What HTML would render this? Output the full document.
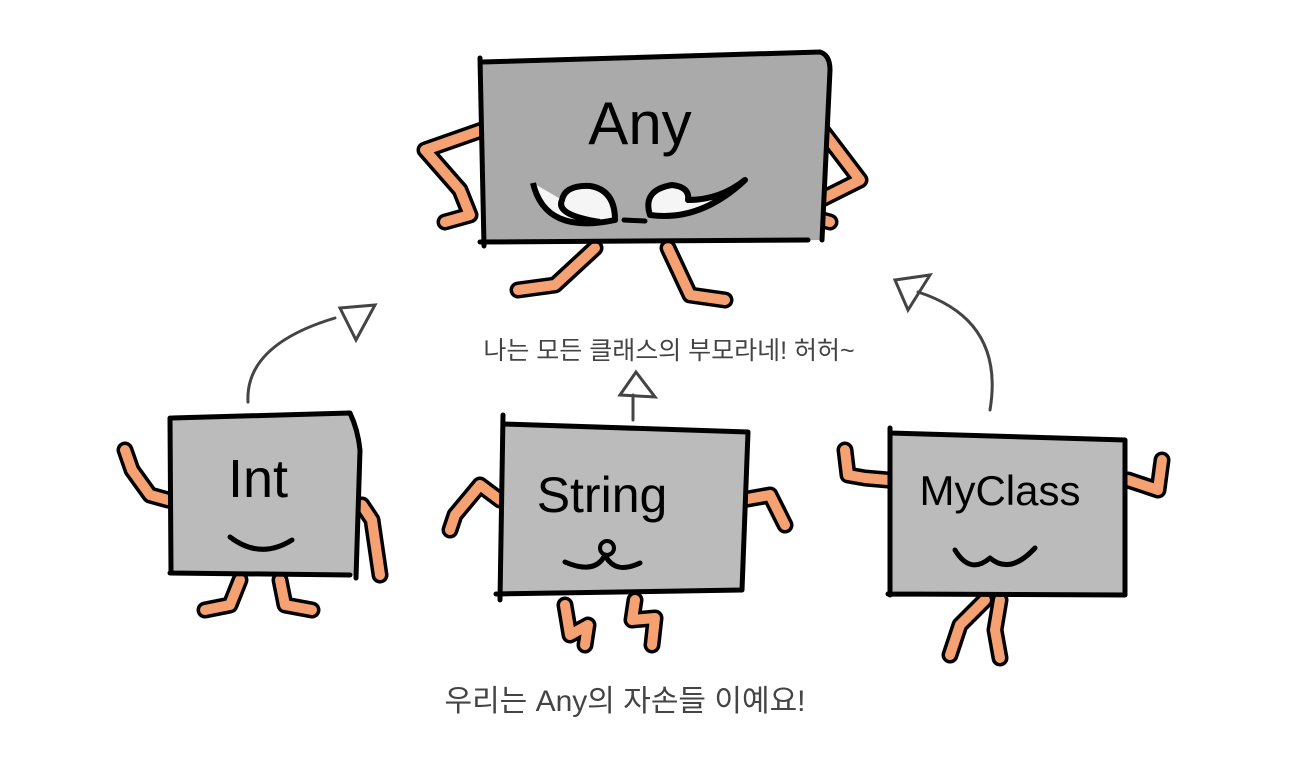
<!DOCTYPE html>
<html><head><meta charset="utf-8"><style>
html,body{margin:0;padding:0;background:#fff}
svg{display:block}
text{font-family:"Liberation Sans","Noto Sans CJK KR",sans-serif}
.lb{fill:none;stroke:#000;stroke-width:17;stroke-linecap:round;stroke-linejoin:round}
.lo{fill:none;stroke:#f5a172;stroke-width:10;stroke-linecap:round;stroke-linejoin:round}
.ln{fill:none;stroke:#000;stroke-width:5;stroke-linecap:round;stroke-linejoin:round}
.ar{fill:none;stroke:#444;stroke-width:3;stroke-linecap:round}
</style></head><body>
<svg width="1311" height="777" viewBox="0 0 1311 777">
<!-- Any limbs -->
<g>
<path class="lb" d="M482 130 L425 150 L460 190 L470 215 L445 222"/>
<path class="lo" d="M482 130 L425 150 L460 190 L470 215 L445 222"/>
<path class="lb" d="M822 130 L860 180 L820 200 L805 215 L830 222"/>
<path class="lo" d="M822 130 L860 180 L820 200 L805 215 L830 222"/>
<path class="lb" d="M595 248 L555 285 L518 290"/>
<path class="lo" d="M595 248 L555 285 L518 290"/>
<path class="lb" d="M668 248 L690 295 L725 300"/>
<path class="lo" d="M668 248 L690 295 L725 300"/>
</g>
<!-- Any box -->
<path d="M482 62 L820 52 Q830 55 830 70 L822 240 L485 244 Z" fill="#aaaaaa"/>
<path class="ln" d="M480 58 L484 246 M482 62 L820 52 Q830 55 830 70 L822 240 M480 242 L808 240"/>
<text x="640" y="144" font-size="60" text-anchor="middle" fill="#000">Any</text>
<path d="M533 183 Q545 235 615 220 Q615 190 590 186 Q565 185 562 200 Q555 215 600 222" fill="#f5f5f5" stroke="#000" stroke-width="6" stroke-linejoin="round"/>
<path d="M745 180 Q700 222 650 215 Q642 190 672 185 Q690 187 688 200 Q720 200 745 180 Z" fill="#f5f5f5" stroke="#000" stroke-width="6" stroke-linejoin="round"/>
<path class="ln" d="M624 220 L645 221"/>
<!-- Int -->
<path class="lb" d="M168 500 L150 495 L132 470 L125 450"/>
<path class="lo" d="M168 500 L150 495 L132 470 L125 450"/>
<path class="lb" d="M362 505 L372 520 L380 575"/>
<path class="lo" d="M362 505 L372 520 L380 575"/>
<path class="lb" d="M240 580 L230 605 L205 610"/>
<path class="lo" d="M240 580 L230 605 L205 610"/>
<path class="lb" d="M280 580 L285 605 L312 610"/>
<path class="lo" d="M280 580 L285 605 L312 610"/>
<path d="M172 418 L350 413 Q358 430 360 450 L356 575 L172 572 Z" fill="#bbbbbb"/>
<path class="ln" d="M170 418 L171 572 M172 418 L350 413 Q358 430 360 450 L356 578 M170 573 L350 575"/>
<text x="258" y="497" font-size="54" text-anchor="middle" fill="#000">Int</text>
<path class="ln" d="M230 537 Q260 560 292 540"/>
<!-- String -->
<path class="lb" d="M500 500 L480 485 L455 515 L450 530"/>
<path class="lo" d="M500 500 L480 485 L455 515 L450 530"/>
<path class="lb" d="M742 500 L770 495 L785 525"/>
<path class="lo" d="M742 500 L770 495 L785 525"/>
<path class="lb" d="M565 605 L570 635 L588 625 L585 645"/>
<path class="lo" d="M565 605 L570 635 L588 625 L585 645"/>
<path class="lb" d="M635 600 L632 620 L655 618 L652 645"/>
<path class="lo" d="M635 600 L632 620 L655 618 L652 645"/>
<path d="M505 424 L748 432 L742 590 L500 592 Z" fill="#bbbbbb"/>
<path class="ln" d="M503 415 L500 600 M505 424 L748 432 L742 590 M496 594 L742 590"/>
<text x="602" y="512" font-size="50" text-anchor="middle" fill="#000">String</text>
<circle cx="607" cy="548" r="7" fill="none" stroke="#000" stroke-width="4"/>
<path class="ln" d="M565 562 Q595 575 605 555 Q615 575 640 563"/>
<!-- MyClass -->
<path class="lb" d="M888 480 L865 478 L848 475 L845 450"/>
<path class="lo" d="M888 480 L865 478 L848 475 L845 450"/>
<path class="lb" d="M1128 480 L1158 490 L1162 460"/>
<path class="lo" d="M1128 480 L1158 490 L1162 460"/>
<path class="lb" d="M985 600 L960 625 L950 655"/>
<path class="lo" d="M985 600 L960 625 L950 655"/>
<path class="lb" d="M1000 600 L995 630 L1000 658"/>
<path class="lo" d="M1000 600 L995 630 L1000 658"/>
<path d="M890 433 L1125 440 L1125 595 L890 593 Z" fill="#bbbbbb"/>
<path class="ln" d="M890 428 L890 595 M890 433 L1125 440 L1125 595 M888 594 L1125 595"/>
<text x="1000" y="505" font-size="42" text-anchor="middle" fill="#000">MyClass</text>
<path class="ln" d="M955 550 Q970 575 990 558 Q1010 575 1035 548"/>
<!-- arrows -->
<path class="ar" d="M248 402 Q245 345 335 318"/>
<path class="ar" d="M340 308 L375 305 L356 340 Z" fill="#fff"/>
<path class="ar" d="M633 420 L633 395"/>
<path class="ar" d="M620 395 L636 372 L655 397 Z" fill="#fff"/>
<path class="ar" d="M990 410 Q1005 320 918 292"/>
<path class="ar" d="M895 280 L930 275 L908 310 Z" fill="#fff"/>
<text x="669" y="359" font-size="25" text-anchor="middle" fill="#444">나는 모든 클래스의 부모라네! 허허~</text>
<text x="625" y="711" font-size="30" text-anchor="middle" fill="#444">우리는 Any의 자손들 이예요!</text>
</svg>
</body></html>
